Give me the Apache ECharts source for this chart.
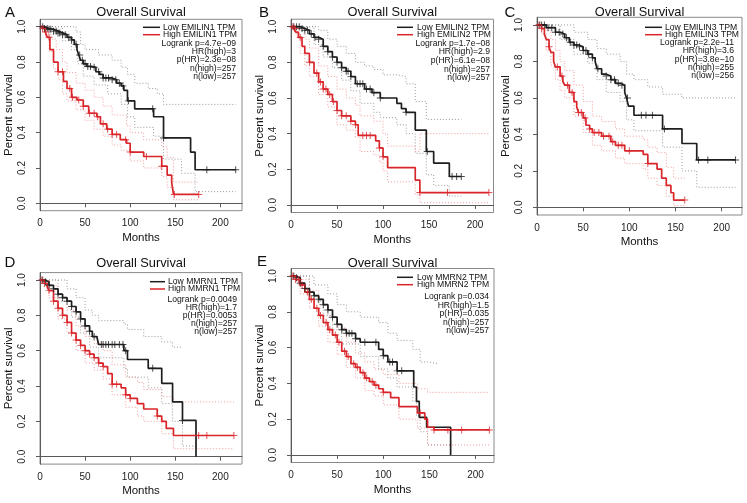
<!DOCTYPE html>
<html>
<head>
<meta charset="utf-8">
<script src="https://cdn.jsdelivr.net/npm/echarts@6/dist/echarts.min.js"></script>
<style>
  html, body { margin: 0; padding: 0; background: #fff; }
  #main { width: 747px; height: 503px; }
</style>
</head>
<body>
<div id="main"></div>
<script>
// ---- data ([month, survival]) ----
const genes = ["EMILIN1", "EMILIN2", "EMILIN3", "MMRN1", "MMRN2"];
const letters = ["A", "B", "C", "D", "E"];
const monthTicks = [0, 50, 100, 150, 200];
const survTicks = [0, 0.2, 0.4, 0.6, 0.8, 1.0];

const statsA = ["Logrank p=4.7e\u221209", "HR(high)=3", "p(HR)=2.3e\u221208", "n(high)=257", "n(low)=257"];
const statsB = ["Logrank p=1.7e\u221208", "HR(high)=2.9", "p(HR)=6.1e\u221208", "n(high)=257", "n(low)=257"];
const statsC = ["Logrank p=2.2e\u221211", "HR(high)=3.6", "p(HR)=3.8e\u221210", "n(high)=255", "n(low)=256"];
const statsD = ["Logrank p=0.0049", "HR(high)=1.7", "p(HR)=0.0053", "n(high)=257", "n(low)=257"];
const statsE = ["Logrank p=0.034", "HR(high)=1.5", "p(HR)=0.035", "n(high)=257", "n(low)=257"];

// panel A
const aLow = [[0,1],[5,0.99],[10,0.985],[15,0.975],[20,0.965],[25,0.955],[30,0.94],[35,0.925],[38,0.9],[41,0.87],[43,0.84],[45,0.81],[48,0.79],[52,0.775],[57,0.77],[62,0.745],[66,0.73],[70,0.71],[80,0.7],[85,0.68],[90,0.665],[93,0.64],[97,0.58],[105,0.535],[126,0.49],[137,0.37],[167,0.29],[172,0.19],[217,0.19]];
const aHigh = [[0,1],[3,0.99],[6,0.97],[8,0.94],[11,0.87],[15,0.8],[20,0.745],[26,0.69],[30,0.65],[35,0.6],[41,0.585],[48,0.55],[54,0.51],[63,0.49],[67,0.45],[74,0.42],[80,0.39],[89,0.36],[96,0.34],[100,0.29],[115,0.265],[135,0.21],[141,0.16],[146,0.12],[148,0.05],[176,0.05]];
const aLowUp = [[0,1],[40,0.97],[45,0.9],[50,0.87],[65,0.84],[80,0.81],[90,0.77],[97,0.73],[105,0.68],[120,0.65],[130,0.62],[137,0.56],[217,0.56]];
const aLowDn = [[0,1],[25,0.92],[35,0.87],[42,0.79],[48,0.72],[60,0.67],[75,0.62],[90,0.56],[97,0.49],[105,0.43],[126,0.38],[137,0.25],[157,0.17],[172,0.066],[217,0.066]];
const aHighUp = [[0,1],[8,0.98],[12,0.93],[18,0.87],[25,0.8],[30,0.74],[40,0.68],[50,0.64],[60,0.6],[70,0.55],[80,0.5],[96,0.44],[100,0.4],[115,0.36],[135,0.32],[141,0.26],[148,0.12],[176,0.12]];
const aHighDn = [[0,1],[5,0.96],[10,0.86],[15,0.76],[20,0.7],[25,0.62],[30,0.58],[40,0.53],[50,0.47],[60,0.42],[70,0.38],[80,0.33],[90,0.3],[100,0.24],[115,0.2],[135,0.15],[141,0.09],[148,0.02],[176,0.02]];
const aLowCens = [3,5,8,10,12,15,18,20,22,25,28,32,35,40,44,47,50,53,56,60,65,70,73,76,80,84,88,92,98,125,137,185,217];
const aHighCens = [3,6,10,20,25,33,36,43,48,55,60,64,70,75,80,85,95,100,118,135,149,176];

// panel B
const bLow = [[0,1],[10,0.99],[15,0.98],[20,0.96],[25,0.94],[30,0.93],[35,0.89],[40,0.86],[45,0.83],[50,0.8],[55,0.77],[60,0.75],[65,0.72],[70,0.68],[80,0.65],[88,0.63],[97,0.6],[115,0.57],[120,0.54],[125,0.52],[135,0.42],[147,0.3],[155,0.235],[172,0.16],[185,0.16]];
const bHigh = [[0,1],[3,0.99],[5,0.97],[8,0.94],[12,0.89],[15,0.85],[20,0.8],[25,0.74],[30,0.69],[35,0.65],[40,0.62],[45,0.58],[50,0.53],[55,0.5],[65,0.47],[70,0.45],[73,0.39],[92,0.36],[96,0.32],[100,0.27],[105,0.21],[135,0.14],[140,0.07],[215,0.07]];
const bLowUp = [[0,1],[30,0.98],[40,0.93],[50,0.89],[60,0.85],[70,0.8],[80,0.78],[90,0.76],[100,0.73],[115,0.72],[125,0.68],[135,0.58],[147,0.48],[185,0.48]];
const bLowDn = [[0,1],[25,0.9],[35,0.83],[45,0.77],[55,0.7],[65,0.64],[75,0.57],[90,0.52],[97,0.49],[115,0.45],[125,0.4],[135,0.29],[147,0.17],[155,0.11],[172,0.05],[185,0.05]];
const bHighUp = [[0,1],[8,0.98],[15,0.93],[20,0.88],[30,0.78],[40,0.72],[50,0.65],[60,0.6],[70,0.56],[75,0.5],[90,0.47],[100,0.4],[105,0.33],[135,0.3],[140,0.4],[215,0.4]];
const bHighDn = [[0,1],[5,0.96],[10,0.85],[15,0.78],[20,0.72],[30,0.62],[40,0.55],[50,0.45],[60,0.42],[70,0.38],[75,0.3],[90,0.28],[96,0.24],[100,0.19],[105,0.13],[135,0.06],[140,0.013],[215,0.013]];
const bLowCens = [3,6,9,12,15,18,22,26,30,35,40,45,50,55,60,62,65,72,75,78,82,86,90,97,125,148,175,180,185];
const bHighCens = [2,4,10,20,28,32,35,38,42,46,50,55,60,65,70,78,82,86,96,100,140,170,215];

// panel C
const cLow = [[0,1],[10,0.985],[20,0.96],[25,0.95],[30,0.93],[35,0.905],[40,0.89],[45,0.88],[50,0.86],[55,0.84],[60,0.82],[63,0.8],[65,0.76],[70,0.73],[75,0.72],[80,0.7],[85,0.68],[90,0.67],[95,0.63],[97,0.6],[99,0.555],[105,0.505],[136,0.43],[157,0.35],[173,0.26],[215,0.26]];
const cHigh = [[0,1],[5,0.98],[8,0.95],[10,0.92],[13,0.88],[15,0.85],[18,0.8],[20,0.77],[25,0.72],[28,0.69],[30,0.67],[35,0.63],[40,0.58],[43,0.55],[45,0.52],[50,0.49],[53,0.45],[57,0.43],[60,0.41],[70,0.39],[80,0.36],[85,0.34],[95,0.31],[115,0.29],[120,0.24],[130,0.21],[135,0.16],[140,0.12],[145,0.08],[148,0.04],[160,0.04]];
const cLowUp = [[0,1],[40,0.96],[55,0.92],[65,0.87],[75,0.84],[90,0.8],[97,0.73],[105,0.7],[120,0.66],[136,0.62],[157,0.6],[215,0.6]];
const cLowDn = [[0,1],[25,0.92],[40,0.84],[55,0.79],[65,0.7],[75,0.63],[90,0.58],[97,0.48],[105,0.42],[136,0.33],[157,0.2],[173,0.11],[215,0.11]];
const cHighUp = [[0,1],[10,0.97],[15,0.92],[20,0.86],[25,0.8],[30,0.75],[40,0.67],[50,0.58],[60,0.5],[70,0.47],[85,0.43],[95,0.39],[115,0.37],[120,0.33],[130,0.3],[140,0.22],[148,0.16],[160,0.16]];
const cHighDn = [[0,1],[5,0.95],[10,0.86],[15,0.78],[20,0.7],[25,0.64],[30,0.6],[40,0.5],[50,0.41],[60,0.34],[70,0.31],[85,0.27],[95,0.24],[115,0.21],[120,0.16],[130,0.12],[140,0.06],[148,0.01],[160,0.01]];
const cLowCens = [3,5,8,12,16,20,24,28,32,36,40,43,46,50,53,56,60,66,75,80,84,88,92,98,113,118,125,138,175,185,215];
const cHighCens = [2,5,13,22,27,33,38,45,48,52,57,62,67,72,78,82,88,92,100,120,160];

// panel D
const dLow = [[0,1],[5,0.99],[10,0.97],[15,0.95],[20,0.92],[25,0.9],[30,0.88],[35,0.85],[40,0.82],[45,0.78],[50,0.74],[55,0.71],[58,0.68],[63,0.67],[65,0.635],[93,0.6],[97,0.55],[120,0.5],[135,0.415],[147,0.31],[158,0.205],[173,0]];
const dHigh = [[0,1],[5,0.98],[8,0.96],[10,0.94],[15,0.88],[20,0.84],[25,0.8],[30,0.76],[35,0.7],[40,0.66],[45,0.63],[50,0.6],[55,0.58],[60,0.56],[65,0.53],[70,0.51],[75,0.47],[80,0.41],[90,0.39],[95,0.35],[100,0.33],[108,0.3],[115,0.27],[130,0.23],[135,0.2],[140,0.16],[148,0.12],[215,0.12]];
const dLowUp = [[0,1],[30,0.95],[40,0.9],[50,0.83],[58,0.8],[65,0.77],[93,0.75],[97,0.72],[115,0.68],[135,0.65],[147,0.62],[158,0.62]];
const dLowDn = [[0,1],[20,0.88],[35,0.79],[45,0.7],[55,0.62],[65,0.56],[93,0.5],[97,0.45],[120,0.39],[135,0.3],[147,0.2],[158,0.06],[173,0.06]];
const dHighUp = [[0,1],[10,0.97],[20,0.9],[30,0.83],[40,0.74],[50,0.68],[60,0.64],[70,0.6],[80,0.52],[95,0.45],[108,0.42],[115,0.38],[135,0.34],[148,0.31],[215,0.31]];
const dHighDn = [[0,1],[10,0.9],[20,0.78],[30,0.7],[40,0.6],[50,0.53],[60,0.49],[70,0.44],[80,0.35],[95,0.28],[108,0.23],[115,0.2],[135,0.13],[148,0.045],[215,0.045]];
const dLowCens = [3,6,10,15,20,25,30,35,40,45,50,55,60,68,70,73,76,80,83,88,92,95,125,158];
const dHighCens = [2,5,10,15,20,25,30,35,40,45,50,55,60,65,70,80,85,95,100,130,176,185,215];

// panel E
const eLow = [[0,1],[5,0.99],[10,0.96],[15,0.93],[20,0.91],[25,0.89],[30,0.87],[35,0.84],[40,0.81],[45,0.77],[50,0.73],[55,0.7],[60,0.68],[70,0.65],[75,0.63],[95,0.59],[100,0.555],[105,0.52],[115,0.47],[133,0.38],[136,0.3],[139,0.21],[147,0.155],[173,0]];
const eHigh = [[0,1],[5,0.98],[10,0.95],[15,0.91],[20,0.87],[25,0.82],[30,0.78],[35,0.74],[40,0.7],[45,0.67],[50,0.63],[55,0.58],[60,0.55],[65,0.51],[70,0.49],[75,0.46],[80,0.43],[85,0.41],[90,0.39],[95,0.37],[100,0.35],[108,0.32],[117,0.27],[137,0.235],[145,0.2],[148,0.155],[155,0.14],[215,0.14]];
const eLowUp = [[0,1],[25,0.95],[40,0.9],[50,0.84],[60,0.8],[75,0.77],[95,0.74],[105,0.68],[115,0.64],[132,0.59],[140,0.52],[148,0.51],[160,0.51]];
const eLowDn = [[0,1],[20,0.86],[35,0.78],[45,0.7],[55,0.62],[75,0.55],[95,0.48],[105,0.43],[115,0.38],[132,0.3],[136,0.22],[140,0.13],[148,0.056],[173,0.056]];
const eHighUp = [[0,1],[10,0.98],[20,0.92],[30,0.84],[40,0.77],[50,0.71],[60,0.63],[70,0.57],[80,0.52],[90,0.48],[100,0.45],[117,0.4],[137,0.37],[148,0.35],[215,0.35]];
const eHighDn = [[0,1],[10,0.9],[20,0.82],[30,0.72],[40,0.63],[50,0.56],[60,0.49],[70,0.43],[80,0.36],[90,0.33],[100,0.28],[117,0.2],[137,0.15],[148,0.056],[215,0.056]];
const eLowCens = [3,6,10,15,20,25,30,35,40,45,50,55,60,63,66,70,80,92,100,107,110,115,120];
const eHighCens = [2,5,8,12,18,22,28,32,38,42,48,52,58,62,68,72,78,82,88,92,100,140,155,170,185,215];

// ---- layout of each panel (pixels) ----
const boxes = [
  { left: 40,  right: 242,   top: 19.3,  bottom: 210.7, xMax: 224, titleY: 12,  letterX: 10,  letterY: 13,
    seg: [143, 160], textX: 163, rightX: 236, yLow: 27.3, yHigh: 34.7, statY: 43.3, dy: 8.3 },
  { left: 291, right: 493.5, top: 19.2,  bottom: 212.5, xMax: 220, titleY: 12,  letterX: 264, letterY: 13,
    seg: [397, 413], textX: 417, rightX: 490, yLow: 27.3, yHigh: 34.7, statY: 43.3, dy: 8.7 },
  { left: 537, right: 742,   top: 17.3,  bottom: 215,   xMax: 222, titleY: 12,  letterX: 510, letterY: 13,
    seg: [645, 662], textX: 665, rightX: 734, yLow: 27.3, yHigh: 34.7, statY: 42.7, dy: 8.3 },
  { left: 40,  right: 242,   top: 272.6, bottom: 464.1, xMax: 224, titleY: 263, letterX: 10,  letterY: 263,
    seg: [150, 165], textX: 168, rightX: 237, yLow: 281.7, yHigh: 289, statY: 299.3, dy: 8.2 },
  { left: 291, right: 494,   top: 268.5, bottom: 462.5, xMax: 220, titleY: 263, letterX: 262, letterY: 262,
    seg: [397, 413], textX: 417, rightX: 489, yLow: 277.3, yHigh: 284.7, statY: 296.7, dy: 8.6 }
];

const panels = [
  { low: aLow, high: aHigh, lowUp: aLowUp, lowDn: aLowDn, highUp: aHighUp, highDn: aHighDn, lowCens: aLowCens, highCens: aHighCens, stats: statsA },
  { low: bLow, high: bHigh, lowUp: bLowUp, lowDn: bLowDn, highUp: bHighUp, highDn: bHighDn, lowCens: bLowCens, highCens: bHighCens, stats: statsB },
  { low: cLow, high: cHigh, lowUp: cLowUp, lowDn: cLowDn, highUp: cHighUp, highDn: cHighDn, lowCens: cLowCens, highCens: cHighCens, stats: statsC },
  { low: dLow, high: dHigh, lowUp: dLowUp, lowDn: dLowDn, highUp: dHighUp, highDn: dHighDn, lowCens: dLowCens, highCens: dHighCens, stats: statsD },
  { low: eLow, high: eHigh, lowUp: eLowUp, lowDn: eLowDn, highUp: eHighUp, highDn: eHighDn, lowCens: eLowCens, highCens: eHighCens, stats: statsE }
];

const font = "'Liberation Sans', Arial, sans-serif";
const black = "#1e1e1e";
const red = "#d9262b";
const grayCI = "#8e8e8e";
const pinkCI = "#ef8f8f";
const axisColor = "#5a5a5a";
const cross = "path://M4.3,0h1.4v4.3h4.3v1.4h-4.3v4.3h-1.4v-4.3h-4.3v-1.4h4.3z";

// survival value of a step curve at a given month
const survAt = (curve, m) => {
  let v = curve[0][1];
  curve.forEach((p) => { if (p[0] <= m) v = p[1]; });
  return v;
};

const grid = [], xAxis = [], yAxis = [], series = [], graphic = [];

panels.forEach((p, i) => {
  const b = boxes[i];
  grid.push({
    left: b.left, top: b.top, width: b.right - b.left, height: b.bottom - b.top,
    show: true, borderColor: "#8a8a8a", borderWidth: 1, backgroundColor: "transparent"
  });
  xAxis.push({
    gridIndex: i, type: "value", min: 0, max: b.xMax,
    name: "Months", nameLocation: "middle", nameGap: 21,
    nameTextStyle: { fontSize: 11.5, color: "#111", fontFamily: font },
    axisLine: { show: true, lineStyle: { color: axisColor } },
    axisTick: { show: true, customValues: monthTicks, length: 4, lineStyle: { color: axisColor } },
    axisLabel: { customValues: monthTicks, margin: 8, fontSize: 10, color: "#222", fontFamily: font },
    splitLine: { show: false }
  });
  yAxis.push({
    gridIndex: i, type: "value", min: -0.042, max: 1.042,
    name: "Percent survival", nameLocation: "middle", nameGap: 25, nameRotate: 90,
    nameTextStyle: { fontSize: 11.5, color: "#111", fontFamily: font },
    axisLine: { show: true, lineStyle: { color: axisColor } },
    axisTick: { show: true, customValues: survTicks, length: 4, lineStyle: { color: axisColor } },
    axisLabel: {
      customValues: survTicks, rotate: 90, margin: 13, fontSize: 10, color: "#222", fontFamily: font,
      formatter: (v) => v.toFixed(1)
    },
    splitLine: { show: false }
  });

  const line = (data, color, width, dotted, z) => ({
    type: "line", xAxisIndex: i, yAxisIndex: i, data: data, step: "end",
    showSymbol: false, symbol: "none", silent: true, z: z,
    lineStyle: { color: color, width: width, type: dotted ? [1, 2] : "solid" }
  });
  series.push(line(p.lowUp, grayCI, 0.9, true, 1));
  series.push(line(p.lowDn, grayCI, 0.9, true, 1));
  series.push(line(p.highUp, pinkCI, 0.9, true, 1));
  series.push(line(p.highDn, pinkCI, 0.9, true, 1));
  series.push(line(p.low, black, 1.7, false, 3));
  series.push(line(p.high, red, 1.7, false, 4));

  const marks = (months, curve, color, z) => ({
    type: "scatter", xAxisIndex: i, yAxisIndex: i, silent: true, z: z,
    symbol: cross, symbolSize: 7, itemStyle: { color: color },
    data: months.map((m) => [m, survAt(curve, m)])
  });
  series.push(marks(p.lowCens, p.low, black, 5));
  series.push(marks(p.highCens, p.high, red, 6));

  // titles, panel letters, legend and stats
  graphic.push({ type: "text", x: (b.left + b.right) / 2, y: b.titleY,
    style: { text: "Overall Survival", fontSize: 12.8, fontFamily: font, fill: "#111", align: "center", verticalAlign: "middle" } });
  graphic.push({ type: "text", x: b.letterX, y: b.letterY,
    style: { text: letters[i], fontSize: 15, fontFamily: font, fill: "#111", align: "center", verticalAlign: "middle" } });
  graphic.push({ type: "line", shape: { x1: b.seg[0], y1: b.yLow, x2: b.seg[1], y2: b.yLow },
    style: { stroke: black, lineWidth: 1.5 } });
  graphic.push({ type: "line", shape: { x1: b.seg[0], y1: b.yHigh, x2: b.seg[1], y2: b.yHigh },
    style: { stroke: red, lineWidth: 1.5 } });
  graphic.push({ type: "text", x: b.textX, y: b.yLow,
    style: { text: "Low " + genes[i] + " TPM", fontSize: 8.6, fontFamily: font, fill: "#111", align: "left", verticalAlign: "middle" } });
  graphic.push({ type: "text", x: b.textX, y: b.yHigh,
    style: { text: "High " + genes[i] + " TPM", fontSize: 8.6, fontFamily: font, fill: "#111", align: "left", verticalAlign: "middle" } });
  p.stats.forEach((s, k) => {
    graphic.push({ type: "text", x: b.rightX, y: b.statY + k * b.dy,
      style: { text: s, fontSize: 8.6, fontFamily: font, fill: "#111", align: "right", verticalAlign: "middle" } });
  });
});

const chart = echarts.init(document.getElementById("main"), null, { renderer: "canvas" });
chart.setOption({
  animation: false,
  backgroundColor: "#fff",
  textStyle: { fontFamily: font },
  grid: grid,
  xAxis: xAxis,
  yAxis: yAxis,
  series: series,
  graphic: graphic
});
</script>
</body>
</html>
